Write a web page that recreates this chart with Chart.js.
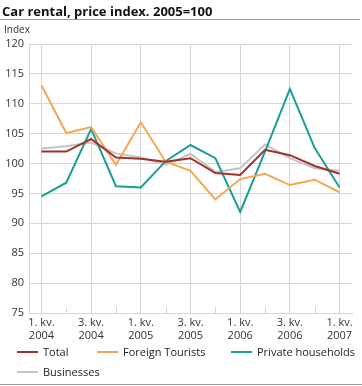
<!DOCTYPE html>
<html>
<head>
<meta charset="utf-8">
<script src="https://cdn.jsdelivr.net/npm/chart.js@4.4.1/dist/chart.umd.min.js"></script>
<style>
    body { margin: 0; background: #fff; font-family: "Open Sans", sans-serif; }
    #wrap { position: relative; width: 362px; height: 386px; overflow: hidden; }
    #title { position: absolute; left: 2px; top: 2px; font-size: 13px; font-weight: bold; color: #111; white-space: nowrap; }
    #rule { position: absolute; left: 0; top: 19px; width: 360px; height: 1px; background: #9a9a9a; }
    #ytitle { position: absolute; left: 4px; top: 22px; font-size: 10px; color: #333; }
    #box { position: absolute; left: 0; top: 0; width: 362px; height: 345px; }
    .leg { position: absolute; font-size: 11px; color: #222; white-space: nowrap; line-height: 12px; }
    .leg span { display: inline-block; width: 21px; height: 2px; vertical-align: middle; margin-right: 5px; position: relative; top: -1px; }
    #bottom { position: absolute; left: 0; top: 384px; width: 362px; height: 1px; background: #9a9a9a; }
</style>
</head>
<body>
<div id="wrap">
    <div id="box"><canvas id="car-chart"></canvas></div>
    <div id="title">Car rental, price index. 2005=100</div>
    <div id="rule"></div>
    <div id="ytitle">Index</div>
    <div class="leg" style="left:17px;top:346px"><span style="background:#a03328"></span>Total</div>
    <div class="leg" style="left:97px;top:346px"><span style="background:#f7a64f"></span>Foreign Tourists</div>
    <div class="leg" style="left:231px;top:346px"><span style="background:#1b9d98"></span>Private households</div>
    <div class="leg" style="left:17px;top:366px"><span style="background:#c4c4c4"></span>Businesses</div>
    <div id="bottom"></div>
</div>
<script>
Chart.defaults.font.family = "'Open Sans', sans-serif";
Chart.defaults.font.size = 11;
Chart.defaults.color = "#333";

// quarters 2004 Q1 .. 2007 Q1
let QUARTERS = [
    ["1. kv.", "2004"], ["2. kv.", "2004"], ["3. kv.", "2004"], ["4. kv.", "2004"],
    ["1. kv.", "2005"], ["2. kv.", "2005"], ["3. kv.", "2005"], ["4. kv.", "2005"],
    ["1. kv.", "2006"], ["2. kv.", "2006"], ["3. kv.", "2006"], ["4. kv.", "2006"],
    ["1. kv.", "2007"],
];

let total      = [102.0, 102.0, 104.1, 101.0, 100.8, 100.3, 100.9, 98.4, 98.1, 102.3, 101.4, 99.6, 98.3];
let tourists   = [113.1, 105.1, 106.1, 99.8, 106.9, 100.3, 98.8, 94.0, 97.4, 98.3, 96.4, 97.3, 95.2];
let households = [94.5, 96.8, 105.8, 96.2, 96.0, 100.4, 103.1, 100.9, 91.9, 102.0, 112.5, 102.6, 96.0];
let businesses = [102.5, 102.9, 103.5, 101.7, 101.0, 99.8, 101.6, 98.6, 99.2, 103.2, 100.9, 99.2, 98.8];

const GRID = "#d4d4dc";

// small upward tick marks on the x axis for the unlabelled quarters
const minorTicks = {
    id: "minorTicks",
    afterDraw(chart) {
        const x = chart.scales.x;
        const ctx = chart.ctx;
        ctx.save();
        ctx.strokeStyle = GRID;
        ctx.lineWidth = 1;
        for (let i = 1; i < QUARTERS.length; i += 2) {
            const px = Math.round(x.getPixelForTick(i)) + 0.5;
            ctx.beginPath();
            ctx.moveTo(px, x.top);
            ctx.lineTo(px, x.top - 6);
            ctx.stroke();
        }
        ctx.restore();
    }
};

function line(label, data, color) {
    return {
        label: label,
        data: data,
        borderColor: color,
        backgroundColor: color,
        borderWidth: 2,
        pointRadius: 0,
        tension: 0,
        fill: false,
    };
}

new Chart(document.getElementById("car-chart"), {
    type: "line",
    data: {
        labels: QUARTERS,
        datasets: [
            line("Total", total, "#a03328"),
            line("Foreign Tourists", tourists, "#f7a64f"),
            line("Private households", households, "#1b9d98"),
            line("Businesses", businesses, "#c4c4c4"),
        ]
    },
    options: {
        responsive: true,
        maintainAspectRatio: false,
        animation: false,
        layout: { padding: { left: 0, top: 44, right: 10, bottom: 0 } },
        plugins: {
            legend: { display: false },
            tooltip: { enabled: false },
        },
        scales: {
            x: {
                offset: true,
                afterFit: (s) => { s.height = 32; },
                grid: {
                    offset: false,
                    drawTicks: false,
                    color: (c) => (c.index % 2 === 0 ? GRID : "rgba(0,0,0,0)"),
                },
                border: { color: GRID },
                ticks: {
                    autoSkip: false,
                    maxRotation: 0,
                    padding: 3,
                    font: { size: 11 },
                    callback: function (v, i) { return i % 2 === 0 ? QUARTERS[i] : ""; },
                },
            },
            y: {
                min: 75,
                max: 120,
                afterFit: (s) => { s.width = 29; },
                grid: { color: GRID, drawTicks: false },
                border: { color: GRID },
                ticks: { stepSize: 5, padding: 5, font: { size: 11 } },
            }
        }
    },
    plugins: [minorTicks]
});
</script>
</body>
</html>
